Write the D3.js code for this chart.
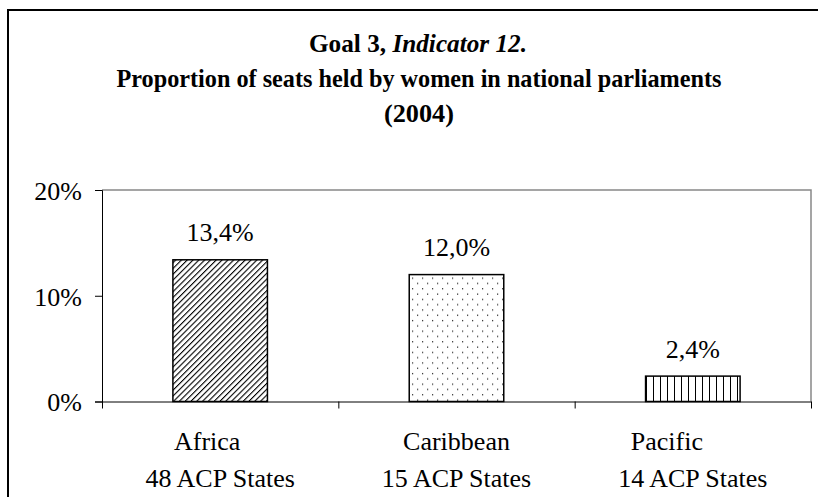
<!DOCTYPE html>
<html>
<head>
<meta charset="utf-8">
<script src="https://cdn.jsdelivr.net/npm/d3@7"></script>
<style>
  body { margin: 0; background: #fff; }
  svg text { font-family: "Liberation Serif", "Times New Roman", serif; fill: #000; white-space: pre; }
</style>
</head>
<body>
<div id="chart"></div>
<script>
// Chart data
var regions = ["Africa", "Caribbean", "Pacific"];
// first label line keeps the trailing blanks the original labels carried
var regionLines = ["Africa\u00a0\u00a0\u00a0\u00a0", "Caribbean", "Pacific\u00a0\u00a0\u00a0\u00a0\u00a0\u00a0\u00a0\u00a0"];
var stateCounts = ["48 ACP States", "15 ACP States", "14 ACP States"];
var shares = [13.4, 12.0, 2.4];
var valueLabels = ["13,4%", "12,0%", "2,4%"];
var yTicks = [0, 10, 20];
var titleLines = ["Proportion of seats held by women in national parliaments", "(2004)"];

// SVG area
var svgWidth = 818;
var svgHeight = 497;
var plot = { left: 102, top: 190, right: 811, bottom: 401.5 };

var svg = d3.select("#chart")
  .append("svg")
  .attr("width", svgWidth)
  .attr("height", svgHeight);

// Fill patterns for the three bars
var defs = svg.append("defs");

var diag = defs.append("pattern")
  .attr("id", "diag")
  .attr("patternUnits", "userSpaceOnUse")
  .attr("width", 4.1)
  .attr("height", 4.1)
  .attr("patternTransform", "rotate(45)");
diag.append("rect").attr("width", 4.1).attr("height", 4.1).attr("fill", "#fff");
diag.append("line")
  .attr("x1", 0).attr("y1", 0).attr("x2", 0).attr("y2", 4.1)
  .attr("stroke", "#000").attr("stroke-width", 2.2);

var dots = defs.append("pattern")
  .attr("id", "dots")
  .attr("patternUnits", "userSpaceOnUse")
  .attr("width", 10)
  .attr("height", 10.6);
dots.append("rect").attr("width", 10).attr("height", 10.6).attr("fill", "#fff");
dots.append("rect").attr("x", 2).attr("y", 2).attr("width", 1.2).attr("height", 1.2).attr("fill", "#222");
dots.append("rect").attr("x", 7).attr("y", 7.3).attr("width", 1.2).attr("height", 1.2).attr("fill", "#222");

var vert = defs.append("pattern")
  .attr("id", "vert")
  .attr("patternUnits", "userSpaceOnUse")
  .attr("width", 7)
  .attr("height", 10)
  .attr("x", plot.left + 2);
vert.append("rect").attr("width", 7).attr("height", 10).attr("fill", "#fff");
vert.append("line")
  .attr("x1", 3.5).attr("y1", 0).attr("x2", 3.5).attr("y2", 10)
  .attr("stroke", "#000").attr("stroke-width", 1);

var fills = ["url(#diag)", "url(#dots)", "url(#vert)"];

// outer frame (runs off the right and bottom edges)
svg.append("rect")
  .attr("x", 8).attr("y", 10)
  .attr("width", 830).attr("height", 510)
  .attr("fill", "none")
  .attr("stroke", "#000")
  .attr("stroke-width", 2);

// Title: condensed bold serif, squeezed to the original widths
var title = svg.append("text")
  .attr("x", 418)
  .attr("y", 52)
  .attr("text-anchor", "middle")
  .attr("font-weight", "bold")
  .attr("font-size", 25)
  .attr("textLength", 218)
  .attr("lengthAdjust", "spacingAndGlyphs");
title.append("tspan").text("Goal 3, ");
title.append("tspan").attr("font-style", "italic").text("Indicator 12.");

var titleWidths = [605, 70];
titleLines.forEach(function(t, i) {
  svg.append("text")
    .attr("x", 419)
    .attr("y", 87 + i * 35)
    .attr("text-anchor", "middle")
    .attr("font-weight", "bold")
    .attr("font-size", 25)
    .attr("textLength", titleWidths[i])
    .attr("lengthAdjust", "spacingAndGlyphs")
    .text(t);
});

// Scales
var xBandScale = d3.scaleBand()
  .domain(regions)
  .range([plot.left, plot.right])
  .paddingInner(0.6)
  .paddingOuter(0.3);

var yLinearScale = d3.scaleLinear()
  .domain([0, 20])
  .range([plot.bottom, plot.top]);

// plot area border, grey on the top and right
svg.append("path")
  .attr("d", "M" + plot.left + "," + plot.top + "H" + plot.right + "V" + plot.bottom)
  .attr("fill", "none")
  .attr("stroke", "#888")
  .attr("stroke-width", 1.5);

// Bars
svg.selectAll(".bar")
  .data(shares)
  .enter()
  .append("rect")
  .attr("class", "bar")
  .attr("x", (d, i) => xBandScale(regions[i]))
  .attr("y", d => yLinearScale(d))
  .attr("width", xBandScale.bandwidth())
  .attr("height", d => yLinearScale(0) - yLinearScale(d))
  .attr("fill", (d, i) => fills[i])
  .attr("stroke", "#000")
  .attr("stroke-width", 1.5);

// Value labels
svg.selectAll(".val")
  .data(shares)
  .enter()
  .append("text")
  .attr("class", "val")
  .attr("x", (d, i) => xBandScale(regions[i]) + xBandScale.bandwidth() / 2)
  .attr("y", d => yLinearScale(d) - 18.5)
  .attr("text-anchor", "middle")
  .attr("font-size", 26)
  .text((d, i) => valueLabels[i]);

// Left axis
var leftAxis = d3.axisLeft(yLinearScale)
  .tickValues(yTicks)
  .tickSize(7)
  .tickPadding(13)
  .tickFormat(d => d + "%");

var yAxisG = svg.append("g")
  .attr("transform", `translate(${plot.left}, 0)`)
  .call(leftAxis);
yAxisG.select(".domain").attr("stroke", "#000");
yAxisG.selectAll("text")
  .attr("font-size", 26)
  .attr("fill", "#000")
  .attr("dy", "0.36em");

// Bottom axis: tick marks sit on the band edges
var catEdges = d3.scaleLinear().domain([0, 3]).range([plot.left, plot.right]);
var bottomAxis = d3.axisBottom(catEdges)
  .tickValues([0, 1, 2, 3])
  .tickSize(7)
  .tickSizeOuter(0)
  .tickFormat("");

svg.append("g")
  .attr("transform", `translate(0, ${plot.bottom})`)
  .call(bottomAxis)
  .select(".domain").attr("stroke", "#000");

// Category labels (two lines)
var cats = svg.selectAll(".cat")
  .data(regions)
  .enter()
  .append("text")
  .attr("class", "cat")
  .attr("text-anchor", "middle")
  .attr("font-size", 26);
cats.append("tspan")
  .attr("x", d => xBandScale(d) + xBandScale.bandwidth() / 2)
  .attr("y", 450)
  .text((d, i) => regionLines[i]);
cats.append("tspan")
  .attr("x", d => xBandScale(d) + xBandScale.bandwidth() / 2)
  .attr("y", 486.5)
  .text((d, i) => stateCounts[i]);
</script>
</body>
</html>
